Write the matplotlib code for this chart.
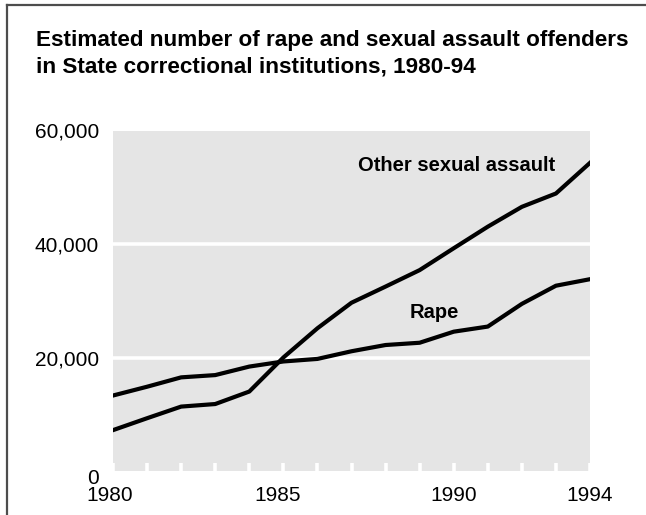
import numpy as np
import matplotlib
matplotlib.use("Agg")
import matplotlib.pyplot as plt
from matplotlib.lines import Line2D
import matplotlib.transforms as mtransforms

# ── Data ──────────────────────────────────────────────────────────────────────
years = list(range(1980, 1995))
rape = [13300, 14850, 16500, 16900, 18400, 19300, 19750, 21100,
        22200, 22600, 24550, 25450, 29450, 32650, 33800]
other_sexual_assault = [7200, 9300, 11350, 11800, 14000, 20000, 25150, 29650,
                        32500, 35400, 39250, 43050, 46550, 48900, 54300]

y_ticks = [0, 20000, 40000, 60000]
y_ticklabels = ["0", "20,000", "40,000", "60,000"]
x_ticks = [1980, 1985, 1990, 1994]

TITLE_LINES = ["Estimated number of rape and sexual assault offenders",
               "in State correctional institutions, 1980-94"]

plt.rcParams["font.family"] = ["Liberation Sans", "DejaVu Sans"]

W, H = 646, 515
fig = plt.figure(figsize=(W / 100, H / 100), dpi=100)


def shift(artist, dx_px, dy_px):
    artist.set_transform(artist.get_transform() +
                         mtransforms.ScaledTranslation(dx_px / 100, dy_px / 100,
                                                       fig.dpi_scale_trans))


# axes box in pixel coords of the reference
x0, x1 = 113, 590
y_top, y_bot = 130.5, 471
ax = fig.add_axes([x0 / W, (H - y_bot) / H, (x1 - x0) / W, (y_bot - y_top) / H])
ax.set_facecolor("#e5e5e5")
for s in ax.spines.values():
    s.set_visible(False)

ax.set_xlim(1980, 1994)
ax.set_ylim(0, 60000)

# white gridlines
for v in [20000, 40000]:
    ax.axhline(v, color="white", lw=2.6, zorder=1)

# white year ticks inside the plot
for yr in years:
    ax.plot([yr, yr], [0, 60000 * 8 / (y_bot - y_top)], color="white", lw=2.6,
            solid_capstyle="butt", zorder=1, clip_on=False)

ax.plot(years, rape, color="black", lw=3, zorder=3, solid_joinstyle="round")
ax.plot(years, other_sexual_assault, color="black", lw=3, zorder=3,
        solid_joinstyle="round")

ax.set_yticks(y_ticks)
ax.set_yticklabels(y_ticklabels)
ax.set_xticks(x_ticks)
ax.set_xticklabels([str(t) for t in x_ticks])
ax.tick_params(axis="both", length=0, labelsize=15, colors="black")
ax.tick_params(axis="y", pad=10)
ax.tick_params(axis="x", pad=11)

# small nudges seen in the reference
shift(ax.get_yticklabels()[0], 0, -5)
xl = ax.get_xticklabels()
shift(xl[0], -3, 0)
shift(xl[1], -6, 0)

ax.text(1987.2, 53900, "Other sexual assault", fontsize=14.5, fontweight="bold",
        va="center", ha="left")
ax.text(1988.7, 28000, "Rape", fontsize=14.5, fontweight="bold",
        va="center", ha="left")

# title, two lines placed on their baselines
for line, base in zip(TITLE_LINES, [46, 72]):
    fig.text(36 / W, 1 - base / H, line, fontsize=16.2, fontweight="bold",
             va="baseline", ha="left")

# frame on left and top (reference is cropped at right/bottom)
fig.add_artist(Line2D([7 / W, 7 / W], [0, 1 - 5 / H], color="#4d4d4d", lw=1.6))
fig.add_artist(Line2D([7 / W, 1], [1 - 5 / H, 1 - 5 / H], color="#4d4d4d", lw=1.6))

fig.savefig("out.png", dpi=100)
